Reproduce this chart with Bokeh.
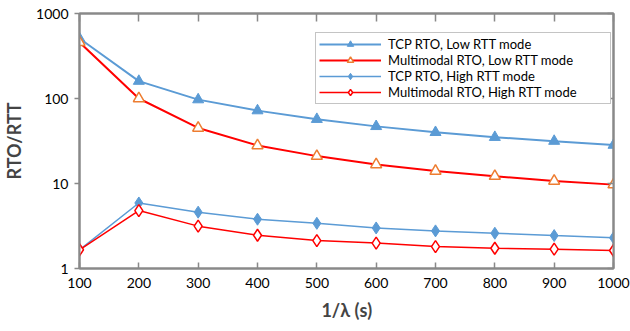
from bokeh.plotting import figure
from bokeh.models import (Range1d, FixedTicker, PrintfTickFormatter, LinearAxis, LogAxis,
                          Legend, LegendItem)
from bokeh.embed import file_html
from bokeh.resources import INLINE

x = [100, 200, 300, 400, 500, 600, 700, 800, 900, 1000]
tcp_low = [508, 160, 97, 72, 57, 47, 40, 35, 31.5, 28.3]
multi_low = [459, 100, 45, 28, 21, 16.7, 14, 12.2, 10.7, 9.7]
tcp_high = [1.66, 5.9, 4.6, 3.8, 3.4, 3.0, 2.77, 2.6, 2.44, 2.3]
multi_high = [1.66, 4.8, 3.15, 2.46, 2.13, 1.99, 1.81, 1.73, 1.69, 1.63]
x_ticks = [100, 200, 300, 400, 500, 600, 700, 800, 900, 1000]
y_ticks = [1, 10, 100, 1000]
labels = ["TCP RTO, Low RTT mode", "Multimodal RTO, Low RTT mode",
          "TCP RTO, High RTT mode", "Multimodal RTO, High RTT mode"]

BLUE = "#5B9BD5"
RED = "#FF0000"
ORANGE = "#ED7D31"
GRAY = "#898989"
FONT = "Lato"

p = figure(width=630, height=331, output_backend="svg", toolbar_location=None,
           y_axis_type="log", x_range=Range1d(100, 1000), y_range=Range1d(1, 1000),
           min_border_left=73, min_border_right=17, min_border_top=13, min_border_bottom=63)
p.grid.visible = False
p.outline_line_color = GRAY
p.outline_line_width = 2
p.background_fill_color = "white"
p.border_fill_color = "white"

# x axis
xa = p.xaxis[0]
xa.ticker = FixedTicker(ticks=x_ticks)
xa.axis_line_color = GRAY
xa.axis_line_width = 2
xa.major_tick_line_color = GRAY
xa.major_tick_line_width = 1.5
xa.major_tick_in = 6
xa.major_tick_out = 0
xa.minor_tick_line_color = None
xa.major_label_text_font = FONT
xa.major_label_text_font_size = "14px"
xa.major_label_text_color = "#000000"
xa.major_label_standoff = 9
xa.axis_label = "1/λ (s)"
xa.axis_label_text_font = FONT
xa.axis_label_text_font_size = "18px"
xa.axis_label_text_font_style = "bold"
xa.axis_label_standoff = 8

# y axis
ya = p.yaxis[0]
ya.ticker = FixedTicker(ticks=y_ticks)
ya.formatter = PrintfTickFormatter(format="%d")
ya.axis_line_color = GRAY
ya.axis_line_width = 2
ya.major_tick_line_color = GRAY
ya.major_tick_line_width = 1.5
ya.major_tick_in = 0
ya.major_tick_out = 5
ya.minor_tick_line_color = None
ya.major_label_text_font = FONT
ya.major_label_text_font_size = "14px"
ya.major_label_text_color = "#000000"
ya.major_label_standoff = 6
ya.axis_label = "RTO/RTT"
ya.axis_label_text_font = FONT
ya.axis_label_text_font_size = "18px"
ya.axis_label_text_font_style = "bold"
ya.axis_label_standoff = 8

# mirrored axes with inner ticks (labels hidden)
top = LinearAxis(ticker=FixedTicker(ticks=x_ticks), major_label_text_font_size="1px",
                 major_label_text_alpha=0, major_tick_in=8, major_tick_out=0,
                 minor_tick_line_color=None, axis_line_color=GRAY, axis_line_width=2,
                 major_tick_line_color=GRAY, major_tick_line_width=1.5, major_label_standoff=0)
p.add_layout(top, "above")
right = LogAxis(ticker=FixedTicker(ticks=y_ticks), formatter=PrintfTickFormatter(format="%d"),
                major_label_text_font_size="1px", major_label_text_alpha=0,
                major_tick_in=6, major_tick_out=0, minor_tick_line_color=None,
                axis_line_color=GRAY, axis_line_width=2, major_tick_line_color=GRAY,
                major_tick_line_width=1.5, major_label_standoff=0)
p.add_layout(right, "right")

l1 = p.line(x, tcp_low, line_color=BLUE, line_width=2)
m1 = p.scatter(x, tcp_low, marker="triangle", size=11, fill_color=BLUE, line_color=BLUE)
l2 = p.line(x, multi_low, line_color=RED, line_width=2)
m2 = p.scatter(x, multi_low, marker="triangle", size=11, fill_color="white",
               line_color=ORANGE, line_width=1.5)
l3 = p.line(x, tcp_high, line_color=BLUE, line_width=1.5)
m3 = p.scatter(x, tcp_high, marker="diamond", size=12, fill_color=BLUE, line_color=BLUE)
l4 = p.line(x, multi_high, line_color=RED, line_width=1.5)
m4 = p.scatter(x, multi_high, marker="diamond", size=12, fill_color="white",
               line_color=RED, line_width=1.5)

legend = Legend(items=[
    LegendItem(label=labels[0], renderers=[l1, m1]),
    LegendItem(label=labels[1], renderers=[l2, m2]),
    LegendItem(label=labels[2], renderers=[l3, m3]),
    LegendItem(label=labels[3], renderers=[l4, m4]),
], location=(236, 164))
legend.label_text_font = FONT
legend.label_text_font_size = "13px"
legend.label_text_color = "#000000"
legend.glyph_width = 62
legend.glyph_height = 16
legend.label_height = 16
legend.label_width = 219
legend.label_standoff = 7
legend.spacing = 0
legend.padding = 3
legend.margin = 0
legend.border_line_color = GRAY
legend.border_line_width = 1.5
legend.background_fill_color = "white"
legend.background_fill_alpha = 1
p.add_layout(legend, "center")

open("out.html", "w").write(file_html(p, INLINE))
